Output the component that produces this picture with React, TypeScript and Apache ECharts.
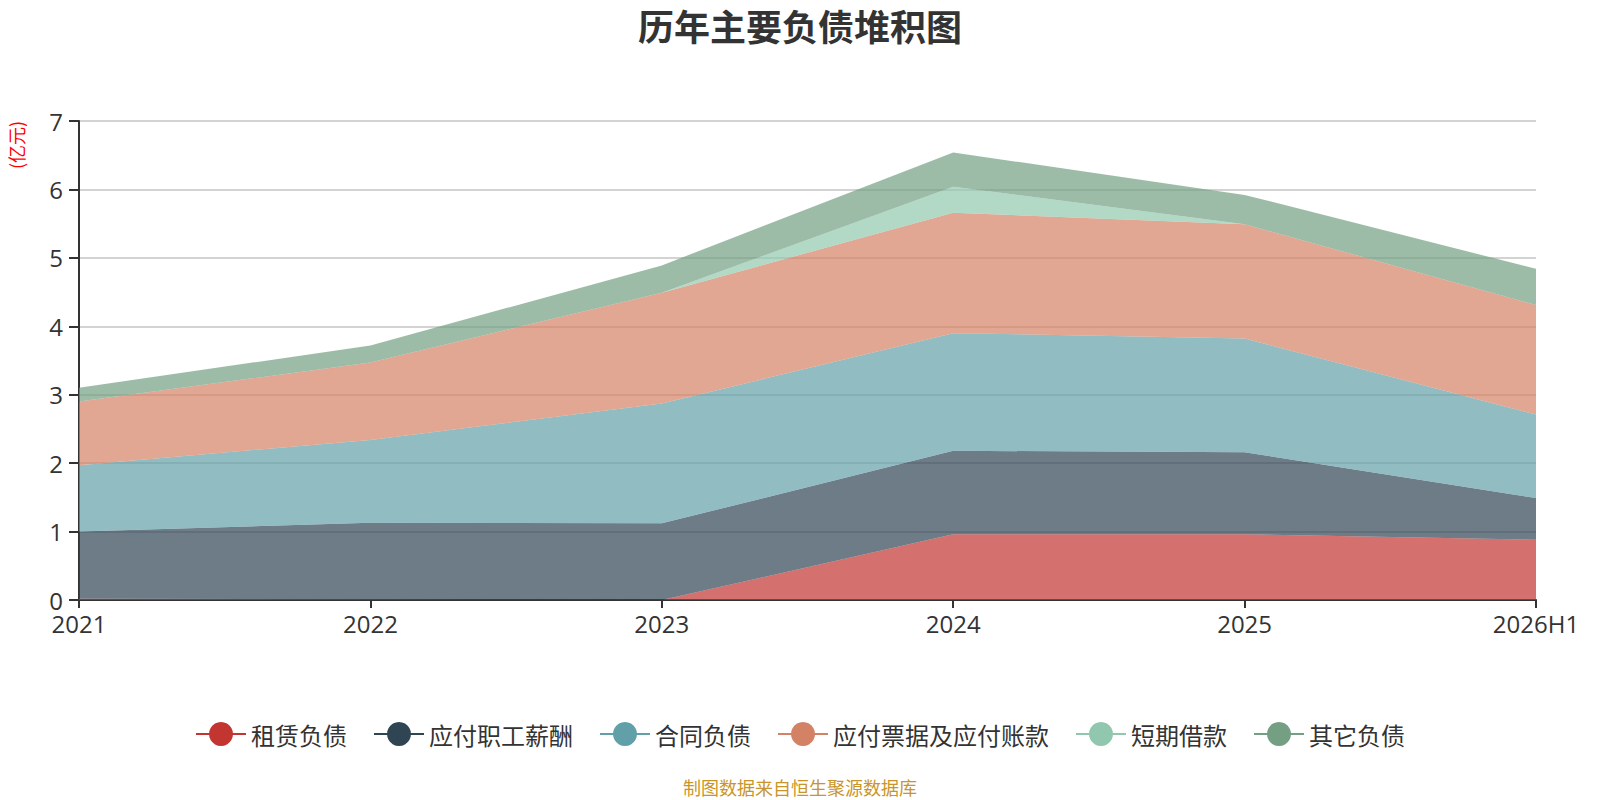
import React, { useEffect, useRef } from "react";
import * as echarts from "echarts";

// 年份
const categories = ["2021", "2022", "2023", "2024", "2025", "2026H1"];

// 各项负债（亿元）
const leaseLiab = [0.02, 0.01, 0, 0.96, 0.96, 0.88];
const payroll = [0.98, 1.12, 1.12, 1.22, 1.2, 0.61];
const contractLiab = [0.97, 1.21, 1.75, 1.72, 1.66, 1.22];
const notesPayable = [0.93, 1.13, 1.62, 1.76, 1.67, 1.6];
const shortLoans = [0, 0, 0, 0.38, 0, 0];
const otherLiab = [0.2, 0.25, 0.4, 0.5, 0.43, 0.53];

const seriesNames = ["租赁负债", "应付职工薪酬", "合同负债", "应付票据及应付账款", "短期借款", "其它负债"];
const seriesData = [leaseLiab, payroll, contractLiab, notesPayable, shortLoans, otherLiab];
const colors = ["#c23531", "#2f4554", "#61a0a8", "#d48265", "#91c7ae", "#749f83"];

const FONT = "'Noto Sans CJK SC', 'Noto Sans', sans-serif";
const NUM_FONT = "'Open Sans', 'Noto Sans CJK SC', sans-serif";

const App: React.FC = () => {
    const chartRef = useRef<HTMLDivElement>(null);

    useEffect(() => {
        document.body.style.margin = "0";
        const chart = echarts.init(chartRef.current!, null, { renderer: "svg" });

        const option = {
            animation: false,
            color: colors,
            textStyle: { fontFamily: FONT },
            title: {
                text: "历年主要负债堆积图",
                left: "center",
                top: 2,
                textStyle: { fontSize: 36, fontWeight: "bold", color: "#333", fontFamily: FONT },
            },
            legend: {
                data: seriesNames,
                left: "center",
                top: 717,
                itemWidth: 50,
                itemHeight: 30,
                itemGap: 26,
                lineStyle: { width: 2 },
                textStyle: { fontSize: 24, color: "#333", fontFamily: FONT },
            },
            grid: { left: 79, right: 64, top: 121, bottom: 200 },
            xAxis: {
                type: "category",
                data: categories,
                boundaryGap: false,
                axisLine: { lineStyle: { color: "#333", width: 2 } },
                axisTick: { length: 8, lineStyle: { width: 2 } },
                axisLabel: { fontSize: 24, color: "#333", margin: 11, fontFamily: NUM_FONT },
            },
            yAxis: {
                type: "value",
                min: 0,
                max: 7,
                interval: 1,
                axisLine: { show: true, lineStyle: { color: "#333", width: 2 } },
                axisTick: { show: true, length: 10, lineStyle: { width: 2 } },
                axisLabel: { fontSize: 24, color: "#333", margin: 16, fontFamily: NUM_FONT },
                splitLine: { lineStyle: { color: "#c4c4c4", width: 1.5 } },
            },
            graphic: [
                {
                    type: "text",
                    x: 16,
                    y: 145,
                    rotation: Math.PI / 2,
                    style: {
                        text: "(亿元)",
                        fill: "#ff0000",
                        fontSize: 18,
                        fontFamily: FONT,
                        align: "center",
                        verticalAlign: "middle",
                    },
                },
                {
                    type: "text",
                    left: "center",
                    top: 778,
                    style: {
                        text: "制图数据来自恒生聚源数据库",
                        fill: "#c9952b",
                        fontSize: 18,
                        fontFamily: FONT,
                    },
                },
            ],
            series: seriesNames.map((name, i) => ({
                name,
                type: "line",
                stack: "total",
                data: seriesData[i],
                symbol: "circle",
                showSymbol: false,
                lineStyle: { width: 0 },
                areaStyle: { opacity: 0.7 },
                emphasis: { disabled: true },
            })),
        };

        // eslint-disable-next-line @typescript-eslint/no-explicit-any
        chart.setOption(option as any);

        return () => {
            chart.dispose();
        };
    }, []);

    return <div ref={chartRef} style={{ width: "1600px", height: "800px" }} />;
};

export default App;
